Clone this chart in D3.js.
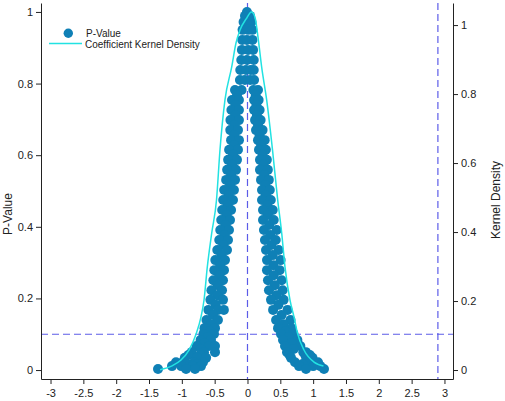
<!DOCTYPE html>
<html>
<head>
<meta charset="utf-8">
<script src="https://cdn.jsdelivr.net/npm/d3@7"></script>
<style>
  body { margin: 0; background: #fff; }
  text { font-family: "Liberation Sans", Arial, sans-serif; fill: #222; }
</style>
</head>
<body>
<div id="chart"></div>
<script>
var svgWidth = 505;
var svgHeight = 401;

// tick labels
var xTicks = [-3, -2.5, -2, -1.5, -1, -0.5, 0, 0.5, 1, 1.5, 2, 2.5, 3];
var pTicks = [0, 0.2, 0.4, 0.6, 0.8, 1];
var densityTicks = [0, 0.2, 0.4, 0.6, 0.8, 1];

// reference lines
var pCutoff = 0.1;
var coefLines = [0, 2.9];

// p-value levels and the coefficients read at each level
var pLevels = [
  1.000, 0.989, 0.972, 0.950, 0.922, 0.894, 0.866, 0.838, 0.810,
  0.782, 0.768, 0.754, 0.740, 0.726, 0.712, 0.698, 0.684, 0.670, 0.656,
  0.642, 0.628, 0.615, 0.601, 0.587, 0.573, 0.559, 0.545, 0.531, 0.517,
  0.503, 0.489, 0.475, 0.461, 0.447, 0.433, 0.419, 0.405, 0.391, 0.377,
  0.363, 0.349, 0.335, 0.321, 0.307, 0.293, 0.279, 0.265, 0.251, 0.237,
  0.223, 0.209, 0.196, 0.182, 0.168, 0.154, 0.140, 0.128, 0.117, 0.109,
  0.101, 0.092, 0.084, 0.075, 0.067, 0.059, 0.050, 0.042, 0.034, 0.022,
  0.017, 0.011, 0.003
];
var coefByLevel = [
  [-0.008], [-0.038, 0.038], [-0.060, 0.008, 0.060], [-0.075, 0.008, 0.075],
  [-0.080, -0.008, 0.075], [-0.085, 0.008, 0.085], [-0.095, -0.008, 0.095],
  [-0.110, -0.023, 0.050, 0.095], [-0.115, -0.040, 0.040, 0.100],
  [-0.190, -0.090, 0.090, 0.160], [-0.160, 0.125],
  [-0.236, -0.130, 0.100, 0.170], [-0.183, 0.135],
  [-0.245, -0.130, 0.100, 0.185], [-0.188, 0.143],
  [-0.260, -0.130, 0.115, 0.200], [-0.195, 0.160],
  [-0.262, -0.145, 0.130, 0.230], [-0.200, 0.185],
  [-0.250, -0.130, 0.160, 0.262], [-0.200, 0.210],
  [-0.280, -0.145, 0.175, 0.280], [-0.220, 0.230],
  [-0.295, -0.160, 0.190, 0.295], [-0.235, 0.245],
  [-0.310, -0.175, 0.190, 0.310], [-0.250, 0.255],
  [-0.325, -0.190, 0.206, 0.325], [-0.265, 0.270],
  [-0.355, -0.206, 0.221, 0.340], [-0.285, 0.280],
  [-0.370, -0.221, 0.221, 0.355], [-0.300, 0.300],
  [-0.385, -0.250, 0.236, 0.385], [-0.318, 0.310],
  [-0.400, -0.266, 0.236, 0.400], [-0.333, 0.330],
  [-0.415, -0.282, 0.251, 0.445], [-0.348, 0.345],
  [-0.430, -0.297, 0.266, 0.430], [-0.368, 0.365],
  [-0.460, -0.312, 0.282, 0.475], [-0.395, 0.385],
  [-0.490, -0.343, 0.297, 0.505], [-0.415, 0.395],
  [-0.505, -0.358, 0.297, 0.490], [-0.430, 0.400],
  [-0.520, -0.373, 0.312, 0.520], [-0.453, 0.415],
  [-0.550, -0.388, 0.327, 0.535], [-0.463, 0.440],
  [-0.565, -0.373, 0.358, 0.550], [-0.485, 0.470],
  [-0.595, -0.449, -0.360, 0.390, 0.610], [-0.525, 0.520],
  [-0.625, -0.450, 0.435, 0.655], [-0.553, 0.550],
  [-0.655, -0.495, 0.465, 0.670], [-0.575, 0.585],
  [-0.670, -0.510, 0.510, 0.700], [-0.605, 0.625],
  [-0.715, -0.556, 0.541, 0.760], [-0.655, 0.670],
  [-0.775, -0.586, -0.495, 0.571, 0.805], [-0.710, 0.705],
  [-0.850, -0.663, -0.495, 0.602, 0.850, 0.891], [-0.900, -0.720, 0.640, 0.880, 0.950],
  [-0.955, -0.770, -0.630, 0.663, 0.895, 0.990],
  [-1.089, -0.990, -0.815, -0.678, 0.724, 0.940, 1.074],
  [-0.920, -0.760, 0.840, 1.040],
  [-1.150, -1.010, -0.830, -0.708, 0.785, 1.000, 1.110],
  [-1.363, -0.936, -0.799, 0.891, 1.165]
];

// kernel density of the coefficients
var densityX = [-1.332, -1.150, -1.013, -0.891, -0.784, -0.708, -0.662, -0.612, -0.545,
  -0.472, -0.419, -0.343, -0.241, -0.175, -0.114, -0.023, 0.061, 0.114, 0.160,
  0.216, 0.292, 0.381, 0.460, 0.521, 0.571, 0.647, 0.708, 0.761, 0.860, 1.013, 1.157];
var densityY = [0.001, 0.012, 0.029, 0.058, 0.104, 0.154, 0.203, 0.299, 0.397,
  0.493, 0.638, 0.783, 0.878, 0.948, 0.986, 1.017, 1.038, 1.023, 0.965,
  0.878, 0.783, 0.638, 0.493, 0.397, 0.299, 0.203, 0.154, 0.107, 0.058, 0.023, 0.012];

var points = [];
pLevels.forEach(function(p, i) {
  coefByLevel[i].forEach(function(c) {
    points.push({ coef: c, p: p });
  });
});
var density = densityX.map(function(x, i) { return { x: x, y: densityY[i] }; });

var plot = { left: 41, right: 453, top: 3, bottom: 379 };

var svg = d3.select("#chart")
  .append("svg")
  .attr("width", svgWidth)
  .attr("height", svgHeight);

var xScale = d3.scaleLinear()
  .domain([-3.145, 3.13])
  .range([plot.left, plot.right]);

var yLeft = d3.scaleLinear()
  .domain([-0.025, 1.025])
  .range([plot.bottom, plot.top]);

var yRight = d3.scaleLinear()
  .domain([-0.026, 1.064])
  .range([plot.bottom, plot.top]);

var refColor = "#5c5ce8";

// reference lines go under the markers
svg.append("line")
  .attr("x1", plot.left).attr("x2", plot.right)
  .attr("y1", yLeft(pCutoff)).attr("y2", yLeft(pCutoff))
  .attr("stroke", refColor).attr("stroke-width", 1.2)
  .attr("stroke-dasharray", "7,4");

svg.selectAll(".vref")
  .data(coefLines)
  .enter()
  .append("line")
  .attr("class", "vref")
  .attr("x1", d => xScale(d)).attr("x2", d => xScale(d))
  .attr("y1", plot.top).attr("y2", plot.bottom)
  .attr("stroke", refColor).attr("stroke-width", 1.2)
  .attr("stroke-dasharray", "7,4");

// p-value markers
svg.append("g")
  .selectAll("circle")
  .data(points)
  .enter()
  .append("circle")
  .attr("cx", d => xScale(d.coef))
  .attr("cy", d => yLeft(d.p))
  .attr("r", 5)
  .attr("fill", "#0f80b6");

// density line
var densityLine = d3.line()
  .x(d => xScale(d.x))
  .y(d => yRight(d.y))
  .curve(d3.curveMonotoneX);

svg.append("path")
  .datum(density)
  .attr("d", densityLine)
  .attr("fill", "none")
  .attr("stroke", "#22e2e2")
  .attr("stroke-width", 1.5);

// axes
function styleAxis(g) {
  g.selectAll("path, line").attr("stroke", "#222");
  g.selectAll("text").style("font-size", "11px").attr("fill", "#222");
}

svg.append("g")
  .attr("transform", `translate(0, ${plot.bottom})`)
  .call(d3.axisBottom(xScale).tickValues(xTicks).tickSize(5).tickSizeOuter(0)
    .tickPadding(5).tickFormat(d => String(d)))
  .call(styleAxis);

svg.append("g")
  .attr("transform", `translate(${plot.left}, 0)`)
  .call(d3.axisLeft(yLeft).tickValues(pTicks).tickSize(5).tickSizeOuter(0)
    .tickPadding(3).tickFormat(d => String(d)))
  .call(styleAxis);

svg.append("g")
  .attr("transform", `translate(${plot.right}, 0)`)
  .call(d3.axisRight(yRight).tickValues(densityTicks).tickSize(5).tickSizeOuter(0)
    .tickPadding(3).tickFormat(d => String(d)))
  .call(styleAxis);

// axis titles
svg.append("text")
  .attr("transform", "translate(12, 214) rotate(-90)")
  .attr("text-anchor", "middle")
  .style("font-size", "12px")
  .text("P-Value");

svg.append("text")
  .attr("transform", "translate(500, 200) rotate(-90)")
  .attr("text-anchor", "middle")
  .style("font-size", "12px")
  .text("Kernel Density");

// legend
var legend = svg.append("g");
legend.append("circle")
  .attr("cx", 68.3).attr("cy", 33.3).attr("r", 4.7)
  .attr("fill", "#0f80b6");
legend.append("text")
  .attr("x", 86).attr("y", 33.3).attr("dy", "0.35em")
  .style("font-size", "10px")
  .text("P-Value");
legend.append("line")
  .attr("x1", 49).attr("x2", 82).attr("y1", 43.5).attr("y2", 43.5)
  .attr("stroke", "#22e2e2").attr("stroke-width", 1.5);
legend.append("text")
  .attr("x", 85).attr("y", 44).attr("dy", "0.35em")
  .style("font-size", "10px")
  .text("Coefficient Kernel Density");
</script>
</body>
</html>
